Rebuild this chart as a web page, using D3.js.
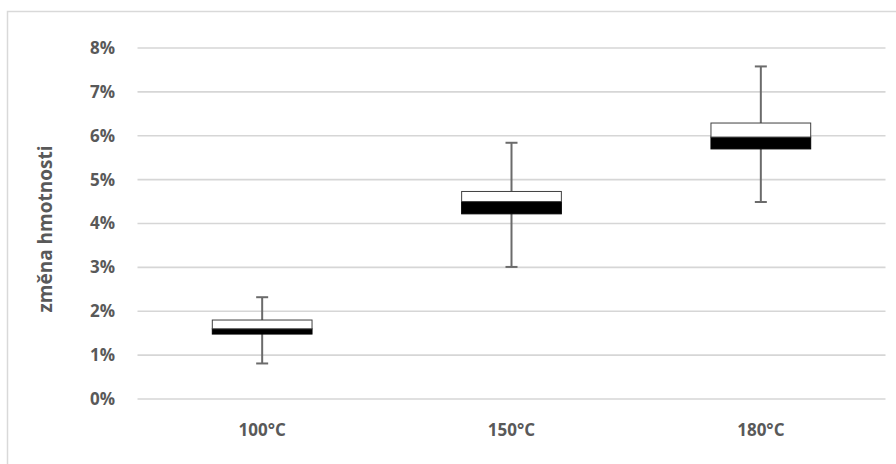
<!DOCTYPE html>
<html>
<head>
<meta charset="utf-8">
<script src="https://cdn.jsdelivr.net/npm/d3@7"></script>
<style>
  html, body { margin: 0; padding: 0; background: #fff; }
  svg { display: block; }
  text { font-family: "Open Sans", "Liberation Sans", sans-serif; font-weight: bold; fill: #595959; }
</style>
</head>
<body>
<svg id="chart" width="896" height="464"></svg>
<script>
// Box plot data: weight change per temperature
const categories = ["100°C", "150°C", "180°C"];
const minVals    = [0.0081, 0.0301, 0.0449];
const q1Vals     = [0.0148, 0.0422, 0.0570];
const medianVals = [0.0160, 0.0450, 0.0597];
const q3Vals     = [0.0180, 0.0473, 0.0629];
const maxVals    = [0.0232, 0.0584, 0.0758];
const yTicks     = [0, 0.01, 0.02, 0.03, 0.04, 0.05, 0.06, 0.07, 0.08];
const yTitle     = "změna hmotnosti";

const rows = categories.map((c, i) => ({
  cat: c, min: minVals[i], q1: q1Vals[i], med: medianVals[i], q3: q3Vals[i], max: maxVals[i]
}));

const svg = d3.select("#chart");
const W = 896, H = 464;
const plot = { left: 137.5, right: 885.5, top: 48, bottom: 399 };

// outer chart border
svg.append("rect")
  .attr("x", 7.5).attr("y", 11.5)
  .attr("width", W).attr("height", H)
  .attr("fill", "none").attr("stroke", "#d9d9d9").attr("stroke-width", 1.5);

const x = d3.scaleBand().domain(categories).range([plot.left, plot.right]).padding(0);
const y = d3.scaleLinear().domain([0, 0.08]).range([plot.bottom, plot.top]);

// gridlines
svg.append("g").selectAll("line").data(yTicks).join("line")
  .attr("x1", plot.left).attr("x2", plot.right)
  .attr("y1", d => y(d)).attr("y2", d => y(d))
  .attr("stroke", "#d6d6d6").attr("stroke-width", 1.6);

// y axis labels
const yAxis = d3.axisLeft(y).tickValues(yTicks).tickFormat(d3.format(".0%")).tickSize(0).tickPadding(0);
const gy = svg.append("g").attr("transform", `translate(115,0)`).call(yAxis);
gy.select(".domain").remove();
gy.selectAll("text").attr("font-size", 17).attr("fill", "#595959")
  .style("font-family", "'Open Sans', sans-serif").style("font-weight", "bold");

// x axis labels
const xAxis = d3.axisBottom(x).tickSize(0).tickPadding(0);
const gx = svg.append("g").attr("transform", `translate(0,${plot.bottom + 25})`).call(xAxis);
gx.select(".domain").remove();
gx.selectAll("text").attr("font-size", 17).attr("fill", "#595959")
  .style("font-family", "'Open Sans', sans-serif").style("font-weight", "bold");

// y axis title
svg.append("text")
  .attr("transform", "translate(52,229) rotate(-90)")
  .attr("text-anchor", "middle")
  .attr("font-size", 19)
  .text(yTitle);

const boxW = x.bandwidth() * 0.4;
const capW = 12;
const g = svg.append("g");
const box = g.selectAll("g.box").data(rows).join("g").attr("class", "box");
const cx = d => x(d.cat) + x.bandwidth() / 2;

// whiskers
box.append("line")
  .attr("x1", cx).attr("x2", cx)
  .attr("y1", d => y(d.q3)).attr("y2", d => y(d.max))
  .attr("stroke", "#6b6b6b").attr("stroke-width", 2);
box.append("line")
  .attr("x1", cx).attr("x2", cx)
  .attr("y1", d => y(d.q1)).attr("y2", d => y(d.min))
  .attr("stroke", "#6b6b6b").attr("stroke-width", 2);
box.append("line")
  .attr("x1", d => cx(d) - capW / 2).attr("x2", d => cx(d) + capW / 2)
  .attr("y1", d => y(d.max)).attr("y2", d => y(d.max))
  .attr("stroke", "#6b6b6b").attr("stroke-width", 2);
box.append("line")
  .attr("x1", d => cx(d) - capW / 2).attr("x2", d => cx(d) + capW / 2)
  .attr("y1", d => y(d.min)).attr("y2", d => y(d.min))
  .attr("stroke", "#6b6b6b").attr("stroke-width", 2);

// lower box (q1 to median) black
box.append("rect")
  .attr("x", d => cx(d) - boxW / 2).attr("width", boxW)
  .attr("y", d => y(d.med)).attr("height", d => y(d.q1) - y(d.med))
  .attr("fill", "#000").attr("stroke", "#000").attr("stroke-width", 1);

// upper box (median to q3) white
box.append("rect")
  .attr("x", d => cx(d) - boxW / 2).attr("width", boxW)
  .attr("y", d => y(d.q3)).attr("height", d => y(d.med) - y(d.q3))
  .attr("fill", "#fff").attr("stroke", "#404040").attr("stroke-width", 1);
</script>
</body>
</html>
